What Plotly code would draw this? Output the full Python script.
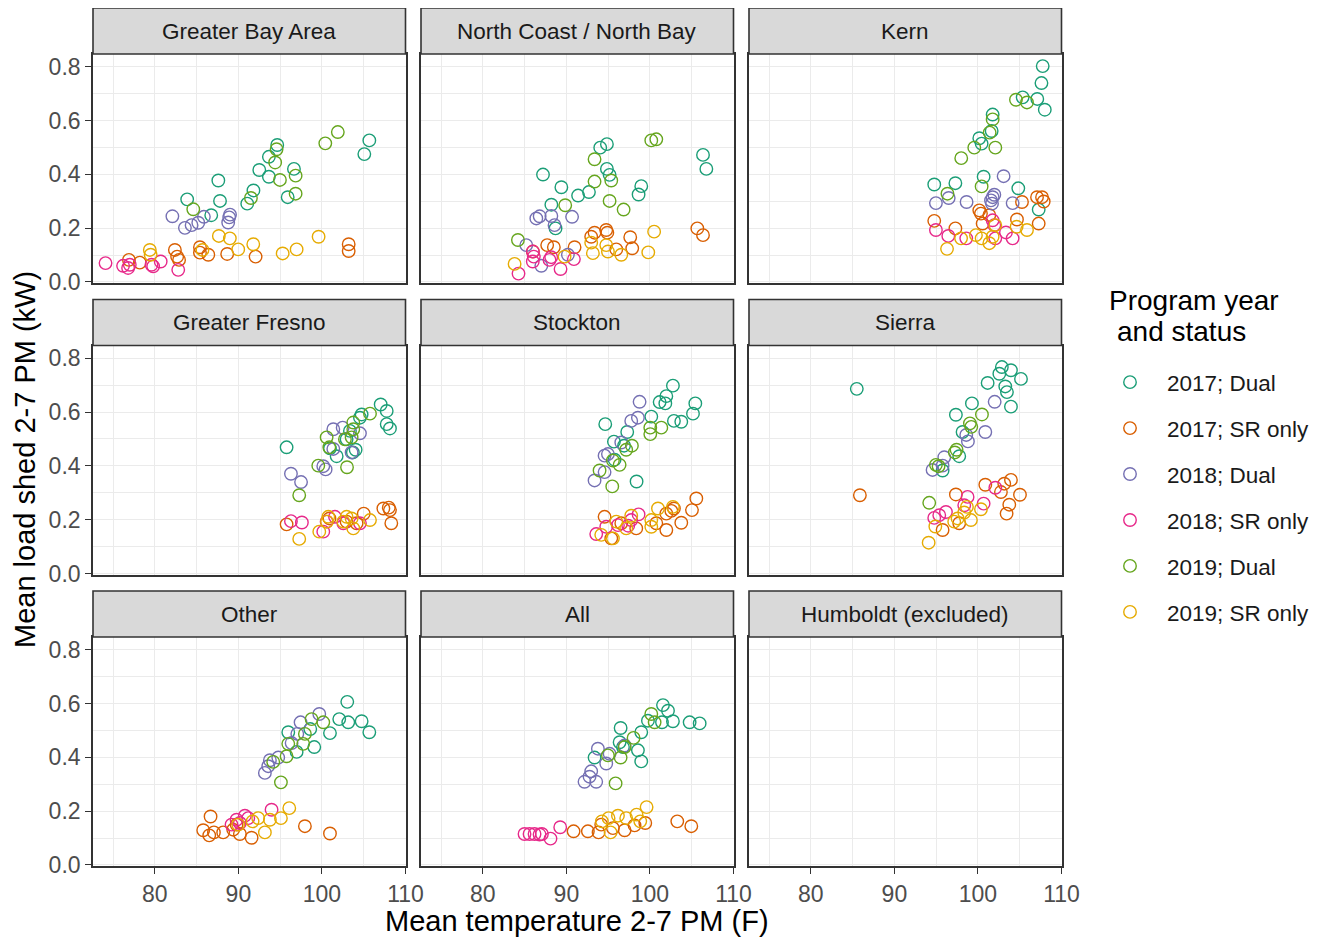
import plotly.graph_objects as go

# ---------------- data (temperature F, load shed kW) ----------------
SERIES = ["2017; Dual", "2017; SR only", "2018; Dual", "2018; SR only", "2019; Dual", "2019; SR only"]
COLORS = ["#1B9E77", "#D95F02", "#7570B3", "#E7298A", "#66A61E", "#E6AB02"]
PANELS = ["Greater Bay Area", "North Coast / North Bay", "Kern",
          "Greater Fresno", "Stockton", "Sierra",
          "Other", "All", "Humboldt (excluded)"]
X_TICKS = [80, 90, 100, 110]
Y_TICKS = [0.0, 0.2, 0.4, 0.6, 0.8]
Y_TICKTEXT = ["0.0", "0.2", "0.4", "0.6", "0.8"]

# Greater Bay Area
gba_dual17 = [(94.65,0.509),(93.65,0.465),(92.5,0.416),(93.65,0.391),(96.65,0.420),(95.9,0.315),(83.87,0.307),(87.6,0.377),(87.8,0.301),(91.8,0.340),(91.06,0.291),(86.75,0.248),(105.67,0.526),(105.07,0.475)]
gba_sr17 = [(82.4,0.119),(82.67,0.094),(82.9,0.082),(85.4,0.129),(85.4,0.109),(86.4,0.101),(88.66,0.104),(92.06,0.094),(103.2,0.140),(103.2,0.115),(76.9,0.082),(78.2,0.072)]
gba_dual18 = [(82.1,0.244),(83.6,0.201),(84.4,0.211),(85.2,0.220),(85.87,0.242),(89.0,0.250),(88.9,0.240),(88.78,0.221)]
gba_sr18 = [(74.1,0.070),(76.2,0.060),(76.8,0.052),(77.0,0.064),(79.6,0.064),(79.8,0.058),(80.7,0.076),(82.8,0.045)]
gba_dual19 = [(101.9,0.557),(100.4,0.515),(94.57,0.493),(94.4,0.444),(94.97,0.379),(96.85,0.395),(96.85,0.328),(91.5,0.312),(84.6,0.270)]
gba_sr19 = [(87.66,0.171),(88.98,0.162),(89.98,0.121),(91.78,0.140),(95.3,0.106),(96.97,0.121),(99.6,0.168),(79.4,0.119),(79.5,0.101),(85.7,0.119)]

# North Coast / North Bay
nc_dual17 = [(94.05,0.499),(94.85,0.512),(87.2,0.399),(94.85,0.420),(95.17,0.398),(89.4,0.352),(91.4,0.321),(92.7,0.334),(88.2,0.287),(98.96,0.356),(98.64,0.325),(106.35,0.472),(106.75,0.420),(88.7,0.199)]
nc_sr17 = [(94.77,0.193),(94.9,0.183),(93.37,0.183),(92.97,0.168),(97.64,0.166),(97.88,0.125),(95.97,0.121),(90.98,0.129),(87.7,0.137),(88.5,0.129),(105.67,0.199),(106.35,0.174),(86.0,0.113)]
nc_dual18 = [(86.4,0.236),(86.8,0.244),(88.2,0.245),(90.68,0.242),(88.58,0.211),(85.2,0.137),(87.0,0.060),(90.18,0.101)]
nc_sr18 = [(84.27,0.031),(85.98,0.113),(86.1,0.094),(85.98,0.076),(87.98,0.082),(88.18,0.092),(89.3,0.048),(90.9,0.085)]
nc_dual19 = [(100.16,0.526),(100.76,0.530),(93.37,0.456),(93.37,0.373),(95.37,0.377),(95.17,0.301),(96.85,0.269),(89.86,0.285),(84.2,0.156)]
nc_sr19 = [(100.5,0.187),(92.97,0.146),(93.17,0.107),(94.77,0.137),(94.97,0.113),(96.57,0.101),(99.8,0.110),(83.8,0.067),(89.78,0.094)]

# Kern
kern_dual17 = [(107.75,0.802),(107.6,0.739),(107.1,0.680),(108.0,0.640),(105.35,0.686),(101.76,0.622),(101.64,0.561),(100.16,0.534),(100.44,0.514),(94.77,0.362),(97.3,0.367),(100.68,0.391),(104.83,0.348),(107.27,0.269)]
kern_sr17 = [(94.77,0.227),(97.3,0.199),(100.16,0.266),(100.36,0.254),(100.56,0.217),(101.36,0.248),(104.67,0.232),(105.27,0.297),(107.07,0.315),(107.67,0.315),(107.87,0.299),(107.27,0.217)]
kern_dual18 = [(103.07,0.393),(94.97,0.293),(96.5,0.312),(98.64,0.297),(101.76,0.315),(101.96,0.324),(101.56,0.303),(101.68,0.291),(104.15,0.293)]
kern_sr18 = [(94.97,0.193),(96.45,0.171),(98.6,0.162),(101.76,0.229),(101.96,0.211),(103.35,0.184),(104.15,0.162),(102.08,0.162)]
kern_dual19 = [(104.55,0.677),(105.87,0.667),(101.76,0.604),(101.4,0.555),(99.56,0.499),(102.08,0.499),(98.0,0.460),(96.35,0.328),(100.44,0.355)]
kern_sr19 = [(96.3,0.123),(97.98,0.162),(99.76,0.174),(100.44,0.162),(101.36,0.144),(101.76,0.168),(102.08,0.211),(104.63,0.205),(105.87,0.193)]

# Greater Fresno
fres_dual17 = [(95.77,0.469),(107.03,0.628),(107.75,0.604),(107.75,0.555),(108.14,0.539),(104.75,0.591),(104.55,0.579),(103.35,0.530),(104.03,0.460),(101.76,0.436),(100.96,0.465),(102.95,0.499),(103.7,0.450)]
fres_sr17 = [(95.77,0.183),(107.35,0.242),(108.0,0.245),(108.14,0.236),(108.3,0.187),(105.0,0.223),(102.95,0.193),(104.15,0.187),(100.9,0.205)]
fres_dual18 = [(101.36,0.536),(102.48,0.542),(104.55,0.521),(100.16,0.399),(100.44,0.387),(96.29,0.371),(97.5,0.340),(103.55,0.450),(101.36,0.463)]
fres_sr18 = [(96.29,0.195),(97.6,0.190),(100.16,0.156),(101.56,0.211),(102.56,0.187),(104.55,0.187),(100.56,0.193)]
fres_dual19 = [(105.75,0.594),(103.75,0.561),(103.75,0.536),(100.56,0.506),(100.88,0.469),(102.75,0.499),(99.56,0.401),(103.0,0.395),(97.28,0.291),(103.55,0.506)]
fres_sr19 = [(97.28,0.129),(99.68,0.156),(100.76,0.211),(100.6,0.193),(102.95,0.211),(103.55,0.205),(103.75,0.168),(105.75,0.199),(102.56,0.193)]

# Stockton
stk_dual17 = [(102.75,0.698),(101.96,0.659),(101.16,0.637),(101.84,0.632),(105.43,0.632),(105.15,0.594),(103.75,0.564),(102.87,0.567),(100.16,0.583),(94.65,0.555),(97.28,0.526),(95.69,0.490),(98.4,0.342),(96.9,0.475),(95.77,0.423)]
stk_sr17 = [(105.55,0.279),(105.03,0.236),(102.87,0.242),(102.56,0.233),(101.96,0.223),(103.75,0.189),(101.96,0.162),(94.57,0.211),(98.36,0.168),(96.57,0.187),(100.76,0.187),(95.37,0.131)]
stk_dual18 = [(98.76,0.638),(97.76,0.567),(98.56,0.579),(96.57,0.487),(94.57,0.438),(94.97,0.444),(94.57,0.377),(93.37,0.346)]
stk_sr18 = [(93.57,0.147),(94.77,0.174),(96.17,0.180),(97.76,0.199),(98.64,0.220),(97.4,0.178)]
stk_dual19 = [(100.04,0.542),(101.36,0.542),(100.04,0.518),(97.84,0.475),(97.16,0.460),(95.57,0.420),(96.37,0.404),(93.97,0.383),(95.49,0.324)]
stk_sr19 = [(94.17,0.144),(95.57,0.131),(95.97,0.193),(97.76,0.215),(97.16,0.168),(100.16,0.199),(100.16,0.174),(100.96,0.242),(102.75,0.248)]

# Sierra
sie_dual17 = [(85.5,0.686),(102.86,0.767),(103.95,0.755),(102.56,0.742),(105.15,0.723),(101.16,0.708),(103.27,0.695),(103.47,0.674),(103.95,0.620),(99.28,0.632),(97.36,0.590),(98.16,0.526),(97.76,0.436),(95.77,0.383)]
sie_sr17 = [(85.87,0.291),(100.88,0.330),(103.95,0.348),(103.15,0.334),(102.75,0.303),(105.03,0.293),(103.75,0.256),(103.43,0.223),(97.36,0.294),(97.76,0.187),(95.77,0.162)]
sie_dual18 = [(102.0,0.638),(100.88,0.526),(98.8,0.491),(95.97,0.432),(94.57,0.385),(95.77,0.401),(98.6,0.515)]
sie_sr18 = [(102.08,0.319),(98.76,0.285),(100.68,0.260),(96.17,0.229),(95.37,0.217),(94.77,0.207),(98.36,0.254)]
sie_dual19 = [(100.48,0.591),(99.04,0.558),(99.2,0.545),(97.44,0.460),(97.24,0.450),(94.97,0.404),(95.29,0.399),(94.17,0.263)]
sie_sr19 = [(94.1,0.115),(94.9,0.175),(100.36,0.239),(98.68,0.248),(99.16,0.199),(97.56,0.205),(98.36,0.227),(97.16,0.193)]

# Other
oth_dual17 = [(103.03,0.606),(102.07,0.542),(103.15,0.530),(104.75,0.534),(105.67,0.493),(100.96,0.490),(99.08,0.438),(96.97,0.420),(95.97,0.493),(98.6,0.505)]
oth_sr17 = [(86.67,0.180),(85.79,0.129),(86.51,0.110),(87.07,0.121),(88.18,0.121),(89.38,0.131),(90.18,0.115),(91.58,0.101),(97.96,0.144),(100.96,0.117),(89.78,0.150)]
oth_dual18 = [(99.68,0.561),(97.44,0.530),(97.05,0.487),(96.37,0.453),(94.77,0.399),(93.77,0.389),(93.57,0.367),(93.17,0.342)]
oth_sr18 = [(93.97,0.205),(90.78,0.183),(91.18,0.174),(89.78,0.168),(89.18,0.150),(90.18,0.156)]
oth_dual19 = [(98.76,0.542),(100.16,0.530),(97.96,0.487),(95.97,0.450),(95.77,0.404),(94.17,0.383),(95.09,0.307),(97.76,0.450)]
oth_sr19 = [(96.09,0.211),(95.09,0.174),(93.77,0.168),(92.37,0.174),(93.17,0.121),(91.7,0.162),(89.98,0.150)]

# All
all_dual17 = [(101.56,0.594),(102.16,0.573),(102.75,0.534),(101.44,0.530),(104.75,0.530),(105.95,0.526),(99.76,0.536),(98.96,0.493),(96.49,0.509),(96.37,0.456),(98.56,0.426),(98.96,0.385),(93.37,0.399),(96.77,0.438)]
all_sr17 = [(90.86,0.125),(92.57,0.125),(93.85,0.121),(94.17,0.150),(95.57,0.137),(96.97,0.129),(98.16,0.147),(99.44,0.156),(103.27,0.162),(104.95,0.144)]
all_dual18 = [(93.77,0.432),(94.77,0.377),(92.97,0.348),(92.77,0.328),(92.17,0.309),(93.57,0.309),(96.97,0.444),(95.17,0.413)]
all_sr18 = [(84.99,0.115),(85.59,0.115),(86.19,0.115),(86.79,0.113),(87.07,0.115),(88.1,0.098),(89.26,0.140)]
all_dual19 = [(100.16,0.561),(100.56,0.530),(98.04,0.472),(96.97,0.438),(96.49,0.399),(94.97,0.407),(95.89,0.303)]
all_sr19 = [(99.6,0.215),(98.4,0.187),(96.17,0.183),(95.05,0.174),(94.25,0.162),(95.29,0.121),(97.16,0.174),(98.84,0.162)]

PANEL_DATA = [
    [gba_dual17, gba_sr17, gba_dual18, gba_sr18, gba_dual19, gba_sr19],
    [nc_dual17, nc_sr17, nc_dual18, nc_sr18, nc_dual19, nc_sr19],
    [kern_dual17, kern_sr17, kern_dual18, kern_sr18, kern_dual19, kern_sr19],
    [fres_dual17, fres_sr17, fres_dual18, fres_sr18, fres_dual19, fres_sr19],
    [stk_dual17, stk_sr17, stk_dual18, stk_sr18, stk_dual19, stk_sr19],
    [sie_dual17, sie_sr17, sie_dual18, sie_sr18, sie_dual19, sie_sr19],
    [oth_dual17, oth_sr17, oth_dual18, oth_sr18, oth_dual19, oth_sr19],
    [all_dual17, all_sr17, all_dual18, all_sr18, all_dual19, all_sr19],
    [[], [], [], [], [], []],
]

# ---------------- layout geometry (page pixels) ----------------
OFF = 8                      # default body margin of the html page
W, H = 1324 - OFF, 941 - OFF
COLS = [(93, 405.5), (421, 733.5), (749, 1061.5)]
ROWS = [(54, 283.3), (345.5, 575), (637, 866.3)]   # panel top, bottom
STRIP_H = 46
FONT = "Liberation Sans, Arial, Helvetica, sans-serif"
BORDER = "#333333"
GRID = "#EBEBEB"

def px(x):
    return (x - OFF) / W

def py(y):
    return 1 - (y - OFF) / H

fig = go.Figure()
layout = dict(
    width=W, height=H,
    margin=dict(l=0, r=0, t=0, b=0),
    paper_bgcolor="white", plot_bgcolor="white",
    font=dict(family=FONT, color="#1A1A1A"),
    showlegend=True,
)
shapes, annotations = [], []

for i, name in enumerate(PANELS):
    r, c = divmod(i, 3)
    ax = "" if i == 0 else str(i + 1)
    x0, x1 = COLS[c]
    top, bot = ROWS[r]
    layout["xaxis" + ax] = dict(
        domain=[px(x0), px(x1)], anchor="y" + ax,
        range=[72.6, 110.0], tickmode="array", tickvals=X_TICKS,
        showticklabels=(r == 2), ticks="outside" if r == 2 else "",
        ticklen=6, tickwidth=1.3, tickcolor=BORDER,
        tickfont=dict(size=23, color="#4D4D4D", family=FONT),
        showline=True, mirror=True, linecolor=BORDER, linewidth=1.6,
        showgrid=True, gridcolor=GRID, gridwidth=1.2, zeroline=False,
        minor=dict(tick0=0, dtick=5, showgrid=True, gridcolor=GRID, gridwidth=0.7),
        automargin=False, fixedrange=True,
    )
    layout["yaxis" + ax] = dict(
        domain=[py(bot), py(top)], anchor="x" + ax,
        range=[-0.005, 0.847], tickmode="array", tickvals=Y_TICKS, ticktext=Y_TICKTEXT,
        showticklabels=(c == 0), ticks="outside" if c == 0 else "",
        ticklen=6, tickwidth=1.3, tickcolor=BORDER,
        tickfont=dict(size=23, color="#4D4D4D", family=FONT),
        showline=True, mirror=True, linecolor=BORDER, linewidth=1.6,
        showgrid=True, gridcolor=GRID, gridwidth=1.2, zeroline=False,
        minor=dict(tick0=0, dtick=0.1, showgrid=True, gridcolor=GRID, gridwidth=0.7),
        automargin=False, fixedrange=True,
    )
    # strip
    shapes.append(dict(type="rect", xref="paper", yref="paper",
                       x0=px(x0), x1=px(x1), y0=py(top), y1=py(top - STRIP_H),
                       fillcolor="#D9D9D9", line=dict(color=BORDER, width=1.6), layer="above"))
    annotations.append(dict(text=name, xref="paper", yref="paper",
                            x=px((x0 + x1) / 2), y=py(top - STRIP_H / 2),
                            showarrow=False, xanchor="center", yanchor="middle",
                            font=dict(size=22.5, color="#1A1A1A", family=FONT)))
    for s, (label, color) in enumerate(zip(SERIES, COLORS)):
        pts = PANEL_DATA[i][s]
        fig.add_trace(go.Scatter(
            x=[p[0] for p in pts], y=[p[1] for p in pts],
            mode="markers", name=label, legendgroup=label,
            showlegend=(i == 0),
            marker=dict(symbol="circle-open", size=12.5, color=color,
                        line=dict(width=1.4, color=color)),
            xaxis="x" + ax, yaxis="y" + ax,
            hovertemplate="%{x:.1f} F, %{y:.2f} kW<extra>" + label + "</extra>",
        ))

annotations.append(dict(text="Mean temperature 2-7 PM (F)", xref="paper", yref="paper",
                        x=px(577), y=py(921), showarrow=False,
                        xanchor="center", yanchor="middle",
                        font=dict(size=29, color="black", family=FONT)))
annotations.append(dict(text="Mean load shed 2-7 PM (kW)", xref="paper", yref="paper",
                        x=px(25), y=py(460), showarrow=False, textangle=-90,
                        xanchor="center", yanchor="middle",
                        font=dict(size=29, color="black", family=FONT)))
# legend title (two lines, tight line spacing as in the reference)
annotations.append(dict(text="Program year", xref="paper", yref="paper",
                        x=px(1107), y=py(300), showarrow=False,
                        xanchor="left", yanchor="middle",
                        font=dict(size=28, color="black", family=FONT)))
annotations.append(dict(text="and status", xref="paper", yref="paper",
                        x=px(1115), y=py(331), showarrow=False,
                        xanchor="left", yanchor="middle",
                        font=dict(size=28, color="black", family=FONT)))

layout["shapes"] = shapes
layout["annotations"] = annotations
layout["legend"] = dict(
    x=px(1093), y=py(361), xanchor="left", yanchor="top",
    font=dict(size=22.5, color="#1A1A1A", family=FONT),
    tracegroupgap=13.7, bgcolor="rgba(0,0,0,0)", itemsizing="trace",
    itemwidth=64,
)
fig.update_layout(**layout)
fig.write_html("out.html")
